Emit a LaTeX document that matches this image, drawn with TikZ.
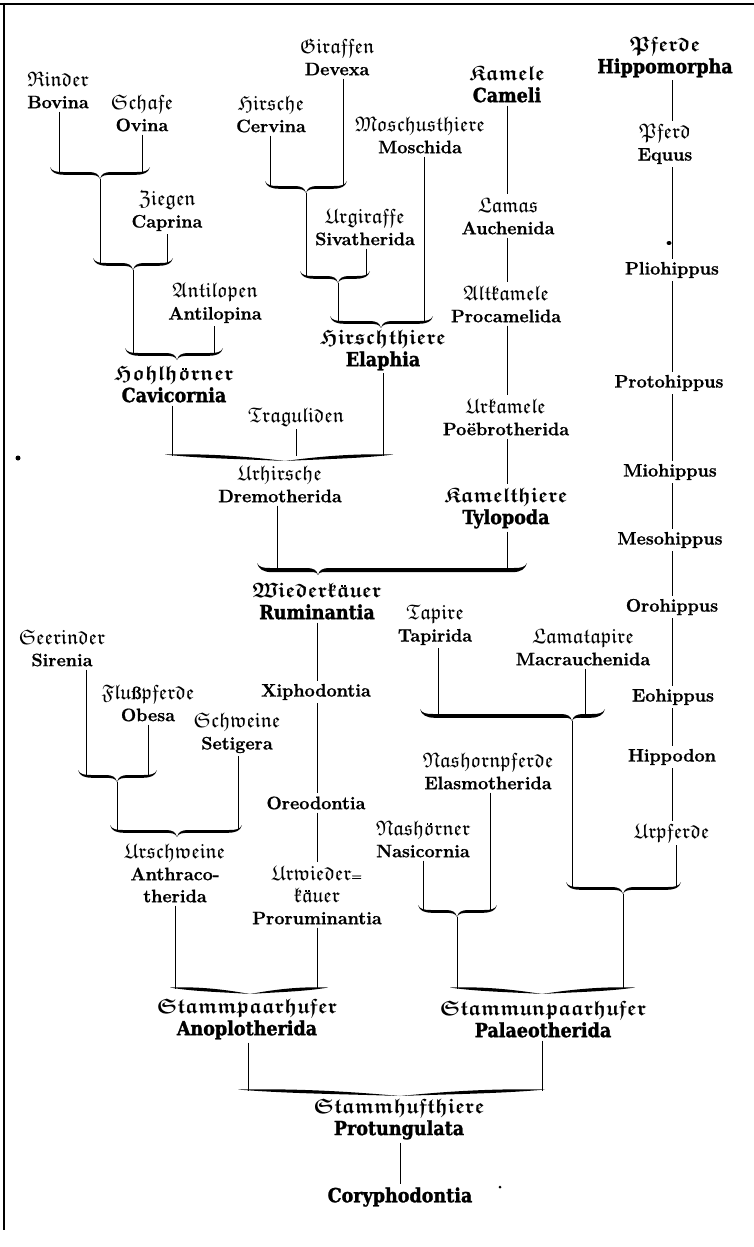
\documentclass[tikz,border=0pt]{standalone}
\usepackage{amssymb}
\usepackage[no-math]{fontspec}
\setmainfont{Latin Modern Roman}[BoldFeatures={FakeBold=1.0}]
\newfontface\heavyfont{DejaVu Serif Condensed Bold}[FakeBold=1.4]
\newcommand\fk[1]{{\fontsize{21}{22}\selectfont$\mathfrak{#1}$}}
\newcommand\fkb[1]{{\fontsize{21}{22}\selectfont\boldmath$\mathfrak{#1}$}}
% umlaut over a Fraktur letter (two small square dots)
\newcommand\umla[1]{\ooalign{#1\cr\hidewidth\raisebox{10pt}{\rule{1.9pt}{1.9pt}\kern1.5pt\rule{1.9pt}{1.9pt}}\hidewidth\cr}}
\newcommand\hvy{\heavyfont\fontsize{19.5}{24}\selectfont}
% brace: name, xl, xt, xr, y, thickness
\newcommand\brc[6]{%
 \fill (#2,#5-5) .. controls (#2+2,#5-0.8) and (#2+6,#5) .. (#2+13,#5)
   -- (#3-11,#5) .. controls (#3-5,#5) and (#3-1,#5+2) .. (#3,#5+7)
   .. controls (#3+1,#5+2) and (#3+5,#5) .. (#3+11,#5)
   -- (#4-13,#5) .. controls (#4-6,#5) and (#4-2,#5-0.8) .. (#4,#5-5)
   .. controls (#4-1.5,#5+0.8) and (#4-6,#5+#6) .. (#4-15,#5+#6)
   -- (#3+13,#5+#6) .. controls (#3+6,#5+#6) and (#3+1.5,#5+3) .. (#3,#5+7)
   .. controls (#3-1.5,#5+3) and (#3-6,#5+#6) .. (#3-13,#5+#6)
   -- (#2+15,#5+#6) .. controls (#2+6,#5+#6) and (#2+1.5,#5+0.8) .. (#2,#5-5) -- cycle;
 \coordinate (#1) at (#3,#5+7);}
% wavy thin brace
\newcommand\wbrc[6]{%
 \pgfmathsetmacro\dl{#3-#2}\pgfmathsetmacro\dr{#4-#3}%
 \fill (#2,#5-2.5) .. controls (#2+0.35*\dl,#5-3.5) and (#3-0.35*\dl,#5-1) .. (#3,#5+4)
   .. controls (#3+0.35*\dr,#5-1) and (#4-0.35*\dr,#5-3.5) .. (#4,#5-2.5)
   .. controls (#4-0.3*\dr,#5+#6-0.5) and (#3+0.3*\dr,#5+#6) .. (#3,#5+4)
   .. controls (#3-0.3*\dl,#5+#6) and (#2+0.3*\dl,#5+#6-0.5) .. (#2,#5-2.5) -- cycle;
 \coordinate (#1) at (#3,#5+4);}
\tikzset{
  lab/.style={align=center, inner sep=3pt, font=\fontsize{18}{22}\selectfont\bfseries},
  conn/.style={line width=0.9pt}
}
\begin{document}
\begin{tikzpicture}[x=1pt,y=-1pt]
\useasboundingbox (0,0) rectangle (754,1247);
\fill[white] (0,0) rectangle (754,1247);
% frame
\draw[line width=2.2pt] (0,4) -- (754,4);
\draw[line width=1.6pt] (4,3) -- (4,1230);
% ---------- labels ----------
\node[lab] (rinder) at (58,90) {\fk{Rinder}\\Bovina};
\node[lab] (schafe) at (142,113) {\fk{Schafe}\\Ovina};
\node[lab] (ziegen) at (167,211) {\fk{Ziegen}\\Caprina};
\node[lab] (antil) at (215,303) {\fk{Antilopen}\\Antilopina};
\node[lab] (hohl) at (174,384) {\fkb{Hohlh}\umla{\fkb{o}}\fkb{rner}\\\hvy Cavicornia};
\node[lab] (giraffen) at (337,57) {\fk{Giraffen}\\Devexa};
\node[lab] (hirsche) at (271,114) {\fk{Hirsche}\\Cervina};
\node[lab] (urgir) at (365,227) {\fk{Urgiraffe}\\Sivatherida};
\node[lab] (moschus) at (420,135) {\fk{Moschusthiere}\\Moschida};
\node[lab] (hirschth) at (383,350) {\fkb{Hirschthiere}\\\hvy Elaphia};
\node[lab] (tragul) at (296,417) {\fk{Traguliden}};
\node[lab] (urhirsche) at (280,484) {\fk{Urhirsche}\\Dremotherida};
\node[lab] (kamele) at (507,84) {\fkb{Kamele}\\\hvy Cameli};
\node[lab] (lamas) at (508,216) {\fk{Lamas}\\Auchenida};
\node[lab] (altk) at (506,304) {\fk{Altkamele}\\Procamelida};
\node[lab] (urk) at (506,417) {\fk{Urkamele}\\Poëbrotherida};
\node[lab] (kamelth) at (506,508) {\fkb{Kamelthiere}\\\hvy Tylopoda};
\node[lab] (wiederk) at (317,601) {\fkb{Wiederk}\umla{\fkb{a}}\fkb{uer}\\\hvy Ruminantia};
\node[lab] (xipho) at (316,692) {Xiphodontia};
\node[lab] (oreo) at (316,803) {Oreodontia};
\node[lab] (urwied) at (317,895) {\fk{Urwieder}{\fontsize{12}{12}\selectfont =}\\\fk{k}\umla{\fk{a}}\fk{uer}\\Proruminantia};
\node[lab] (seer) at (62,648) {\fk{Seerinder}\\Sirenia};
\node[lab] (fluss) at (148,703) {\fk{Flu}ß\fk{pferde}\\Obesa};
\node[lab] (schweine) at (237,733) {\fk{Schweine}\\Setigera};
\node[lab] (ursch) at (175,873) {\fk{Urschweine}\\Anthraco-\\therida};
\node[lab] (stpaar) at (247,1019) {\fkb{Stammpaarhufer}\\\hvy Anoplotherida};
\node[lab] (tapire) at (435,625) {\fk{Tapire}\\Tapirida};
\node[lab] (lamat) at (583,647) {\fk{Lamatapire}\\Macrauchenida};
\node[lab] (nashpf) at (488,771) {\fk{Nashornpferde}\\Elasmotherida};
\node[lab] (nashoe) at (423,839) {\fk{Nash}\umla{\fk{o}}\fk{rner}\\Nasicornia};
\node[lab] (stunpaar) at (543,1019) {\fkb{Stammunpaarhufer}\\\hvy Palaeotherida};
\node[lab] (sthuf) at (399,1119) {\fkb{Stammhufthiere}\\\hvy Protungulata};
\node[lab] (coryph) at (400,1197) {\hvy Coryphodontia};
\node[lab] (pferde) at (665,57) {\fkb{Pferde}\\\hvy Hippomorpha};
\node[lab] (pferd) at (665,144) {\fk{Pferd}\\Equus};
\node[lab] (plio) at (672,270) {Pliohippus};
\node[lab] (proto) at (669,383) {Protohippus};
\node[lab] (mio) at (670,472) {Miohippus};
\node[lab] (meso) at (670,540) {Mesohippus};
\node[lab] (oro) at (672,607) {Orohippus};
\node[lab] (eo) at (673,697) {Eohippus};
\node[lab] (hippod) at (672,757) {Hippodon};
\node[lab] (urpf) at (672,833) {\fk{Urpferde}};
% ---------- braces ----------
\brc{b1}{50}{100}{150}{172}{2.8}
\brc{b2}{93}{133}{173}{263}{2.8}
\brc{b3}{125}{177}{223}{353}{2.8}
\brc{b4}{265}{306}{347}{186}{2.8}
\brc{b5}{300}{338}{370}{276}{2.8}
\brc{b6}{330}{381}{433}{321}{2.8}
\wbrc{b7}{165}{285}{393}{457}{2.2}
\brc{b8}{257}{318}{527}{568}{4.2}
\brc{b9}{78}{117}{157}{775}{2.8}
\brc{b10}{110}{177}{242}{830}{2.8}
\wbrc{b11}{170}{250}{328}{990}{2.2}
\brc{b12}{420}{572}{605}{714}{3.8}
\brc{b13}{418}{457}{497}{910}{2.8}
\brc{b14}{566}{623}{681}{887}{2.8}
\wbrc{b15}{450}{542}{635}{990}{2.2}
\wbrc{b16}{238}{400}{545}{1092}{2.2}
% contact points
\coordinate (b1a) at (59,172);  \coordinate (b1b) at (142,172);
\coordinate (b2a) at (100,263); \coordinate (b2b) at (167,263);
\coordinate (b3a) at (133,353); \coordinate (b3b) at (214,353);
\coordinate (b4a) at (270,186); \coordinate (b4b) at (343,186);
\coordinate (b5a) at (306,276); \coordinate (b5b) at (366,276);
\coordinate (b6a) at (338,321); \coordinate (b6b) at (424,321);
\coordinate (b7a) at (172,456); \coordinate (b7b) at (296,456); \coordinate (b7c) at (383,456);
\coordinate (b8a) at (277,568); \coordinate (b8b) at (507,568);
\coordinate (b9a) at (86,775);  \coordinate (b9b) at (148,775);
\coordinate (b10a) at (117,830); \coordinate (b10b) at (238,830);
\coordinate (b11a) at (175,989); \coordinate (b11b) at (317,989);
\coordinate (b12a) at (438,714); \coordinate (b12b) at (585,714);
\coordinate (b13a) at (423,910); \coordinate (b13b) at (490,910);
\coordinate (b14a) at (572,887); \coordinate (b14b) at (676,887);
\coordinate (b15a) at (457,989); \coordinate (b15b) at (623,989);
\coordinate (b16a) at (248,1091); \coordinate (b16b) at (542,1091);
\coordinate (kcol) at (507,0); \coordinate (rcol) at (317,0);
\coordinate (pcol) at (672,0); \coordinate (scol) at (400,0);
% ---------- connectors ----------
\begin{scope}[conn]
\draw (rinder.south -| b1a) -- (b1a);
\draw (schafe.south -| b1b) -- (b1b);
\draw (b1) -- (b2a);
\draw (ziegen.south -| b2b) -- (b2b);
\draw (b2) -- (b3a);
\draw (antil.south -| b3b) -- (b3b);
\draw (hirsche.south -| b4a) -- (b4a);
\draw (giraffen.south -| b4b) -- (b4b);
\draw (b4) -- (b5a);
\draw (urgir.south -| b5b) -- (b5b);
\draw (b5) -- (b6a);
\draw (moschus.south -| b6b) -- (b6b);
\draw (hohl.south -| b7a) -- (b7a);
\draw (tragul.south -| b7b) -- (b7b);
\draw (hirschth.south -| b7c) -- (b7c);
\draw (kamele.south -| kcol) -- (lamas.north -| kcol);
\draw (lamas.south -| kcol) -- (altk.north -| kcol);
\draw (altk.south -| kcol) -- (urk.north -| kcol);
\draw (urk.south -| kcol) -- (kamelth.north -| kcol);
\draw (kamelth.south -| b8b) -- (b8b);
\draw (urhirsche.south -| b8a) -- (b8a);
\draw (wiederk.south -| rcol) -- (xipho.north -| rcol);
\draw (xipho.south -| rcol) -- (oreo.north -| rcol);
\draw (oreo.south -| rcol) -- (urwied.north -| rcol);
\draw (seer.south -| b9a) -- (b9a);
\draw (fluss.south -| b9b) -- (b9b);
\draw (b9) -- (b10a);
\draw (schweine.south -| b10b) -- (b10b);
\draw (ursch.south -| b11a) -- (b11a);
\draw (urwied.south -| b11b) -- (b11b);
\draw (tapire.south -| b12a) -- (b12a);
\draw (lamat.south -| b12b) -- (b12b);
\draw (nashoe.south -| b13a) -- (b13a);
\draw (nashpf.south -| b13b) -- (b13b);
\draw (b12) -- (b14a);
\draw (b13) -- (b15a);
\draw (b14) -- (b15b);
\draw (stpaar.south -| b16a) -- (b16a);
\draw (stunpaar.south -| b16b) -- (b16b);
\draw (sthuf.south -| scol) -- (coryph.north -| scol);
\draw (pferde.south -| pcol) -- (pferd.north -| pcol);
\draw (pferd.south -| pcol) -- (plio.north -| pcol);
\draw (plio.south -| pcol) -- (proto.north -| pcol);
\draw (proto.south -| pcol) -- (mio.north -| pcol);
\draw (mio.south -| pcol) -- (meso.north -| pcol);
\draw (meso.south -| pcol) -- (oro.north -| pcol);
\draw (oro.south -| pcol) -- (eo.north -| pcol);
\draw (eo.south -| pcol) -- (hippod.north -| pcol);
\draw (hippod.south -| pcol) -- (urpf.north -| pcol);
\draw (urpf.south -| b14b) -- (b14b);
\end{scope}
% specks of the print
\fill (669,243) ellipse (2.5 and 2);
\fill (18,458) circle (2.5);
\fill (500,1187) circle (1.5);
\end{tikzpicture}
\end{document}
